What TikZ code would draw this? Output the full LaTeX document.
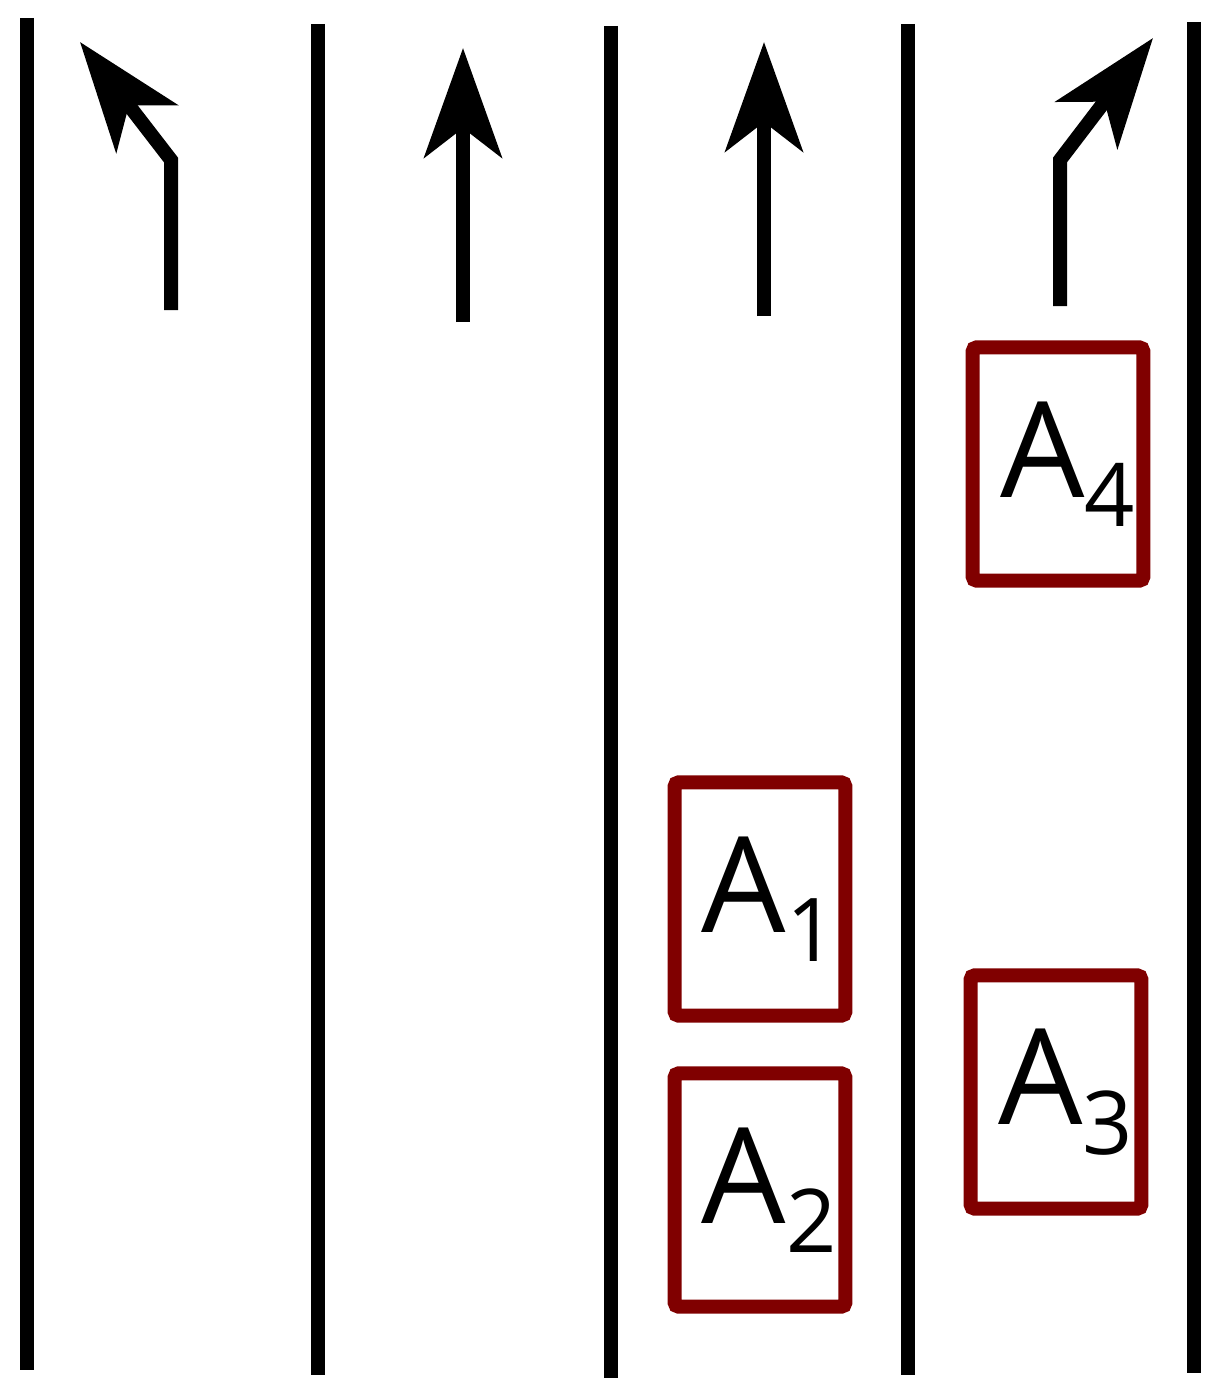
\documentclass[tikz,border=0pt]{standalone}
\usepackage{fontspec}
\setmainfont{Open Sans}
\usetikzlibrary{arrows.meta}
\definecolor{boxred}{HTML}{800000}
\tikzset{
 lane/.style={line width=10.5pt},
 dir/.style={line width=10.5pt,-{Stealth[length=82pt,width=58pt,inset=22pt]}},
 car/.style={draw=boxred,line width=10.5pt,rounded corners=3pt,minimum width=128pt,minimum height=175pt,inner sep=0pt,font=\fontsize{100pt}{100pt}\selectfont}
}
\newcommand{\carlab}[1]{\hspace*{14pt}\raisebox{-6pt}{A\raisebox{-0.22em}{\fontsize{66pt}{66pt}\selectfont #1}}}
\begin{document}
\begin{tikzpicture}[x=0.75pt,y=-0.75pt]
\useasboundingbox (0,0) rectangle (1228,1395);
\coordinate (l1a) at (27,18); \coordinate (l1b) at (27,1370);
\coordinate (l2a) at (318,24); \coordinate (l2b) at (318,1375);
\coordinate (l3a) at (611,26); \coordinate (l3b) at (611,1378);
\coordinate (l4a) at (908,24); \coordinate (l4b) at (908,1375);
\coordinate (l5a) at (1194,22); \coordinate (l5b) at (1194,1373);
\foreach \i in {1,...,5} \draw[lane] (l\i a) -- (l\i b);
\coordinate (a1s) at (171,310); \coordinate (a1m) at (171,160); \coordinate (a1e) at (80,42);
\coordinate (a2s) at (463,322); \coordinate (a2e) at (463,48);
\coordinate (a3s) at (764,316); \coordinate (a3e) at (764,42);
\coordinate (a4s) at (1060,306); \coordinate (a4m) at (1060,160); \coordinate (a4e) at (1153,38);
\draw[dir] (a1s) -- (a1m) -- (a1e);
\draw[dir] (a2s) -- (a2e);
\draw[dir] (a3s) -- (a3e);
\draw[dir] (a4s) -- (a4m) -- (a4e);
\node[car] (A1) at (760,899) {\carlab{1}};
\node[car] (A2) at (760,1190) {\carlab{2}};
\node[car] (A3) at (1056,1092) {\carlab{3}};
\node[car] (A4) at (1058,464) {\carlab{4}};
\end{tikzpicture}
\end{document}
